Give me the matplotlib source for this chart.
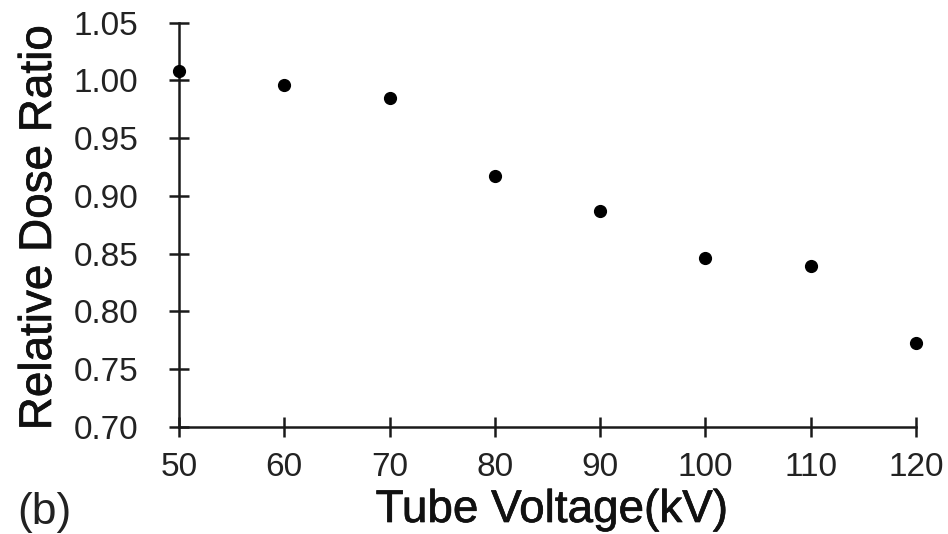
import matplotlib
matplotlib.use("Agg")
import matplotlib.pyplot as plt
import matplotlib.patheffects as pe

voltage = [50, 60, 70, 80, 90, 100, 110, 120]
dose_ratio = [1.008, 0.996, 0.985, 0.917, 0.887, 0.846, 0.839, 0.773]
xticks = [50, 60, 70, 80, 90, 100, 110, 120]
yticks = [0.70, 0.75, 0.80, 0.85, 0.90, 0.95, 1.00, 1.05]

plt.rcParams['font.family'] = ['Liberation Sans', 'DejaVu Sans']

W, H = 948, 534
fig = plt.figure(figsize=(9.48, 5.34), dpi=100)
ax = fig.add_axes([179 / W, 1 - 427 / H, (916 - 179) / W, (427 - 22.7) / H])
ax.scatter(voltage, dose_ratio, s=72, color='black', zorder=3, clip_on=False)
ax.set_xlim(50, 120)
ax.set_ylim(0.70, 1.05)
ax.set_xticks(xticks)
ax.set_yticks(yticks)
ax.set_yticklabels([f"{v:.2f}" for v in yticks])
for s in ['top', 'right']:
    ax.spines[s].set_visible(False)
for s in ['left', 'bottom']:
    ax.spines[s].set_linewidth(1.8)
    ax.spines[s].set_color('#1a1a1a')
ax.tick_params(direction='inout', length=14.4, width=1.8, color='#1a1a1a',
               labelsize=24, labelcolor='#222222')
ax.tick_params(axis='y', pad=22)
ax.tick_params(axis='x', pad=11)

stroke = [pe.withStroke(linewidth=0.5, foreground='#111111')]
fig.text(552 / W, 1 - 522 / H, 'Tube Voltage(kV)', fontsize=33,
         ha='center', va='baseline', color='#111111', path_effects=stroke)
fig.text(17 / W, 1 - 227.5 / H, 'Relative Dose Ratio', fontsize=33,
         rotation=90, ha='left', va='center', color='#111111', path_effects=stroke)
fig.text(17 / W, 1 - 524 / H, '(b)', fontsize=32, ha='left', va='baseline',
         color='#222222')
fig.savefig('out.png', dpi=100, facecolor='white')
